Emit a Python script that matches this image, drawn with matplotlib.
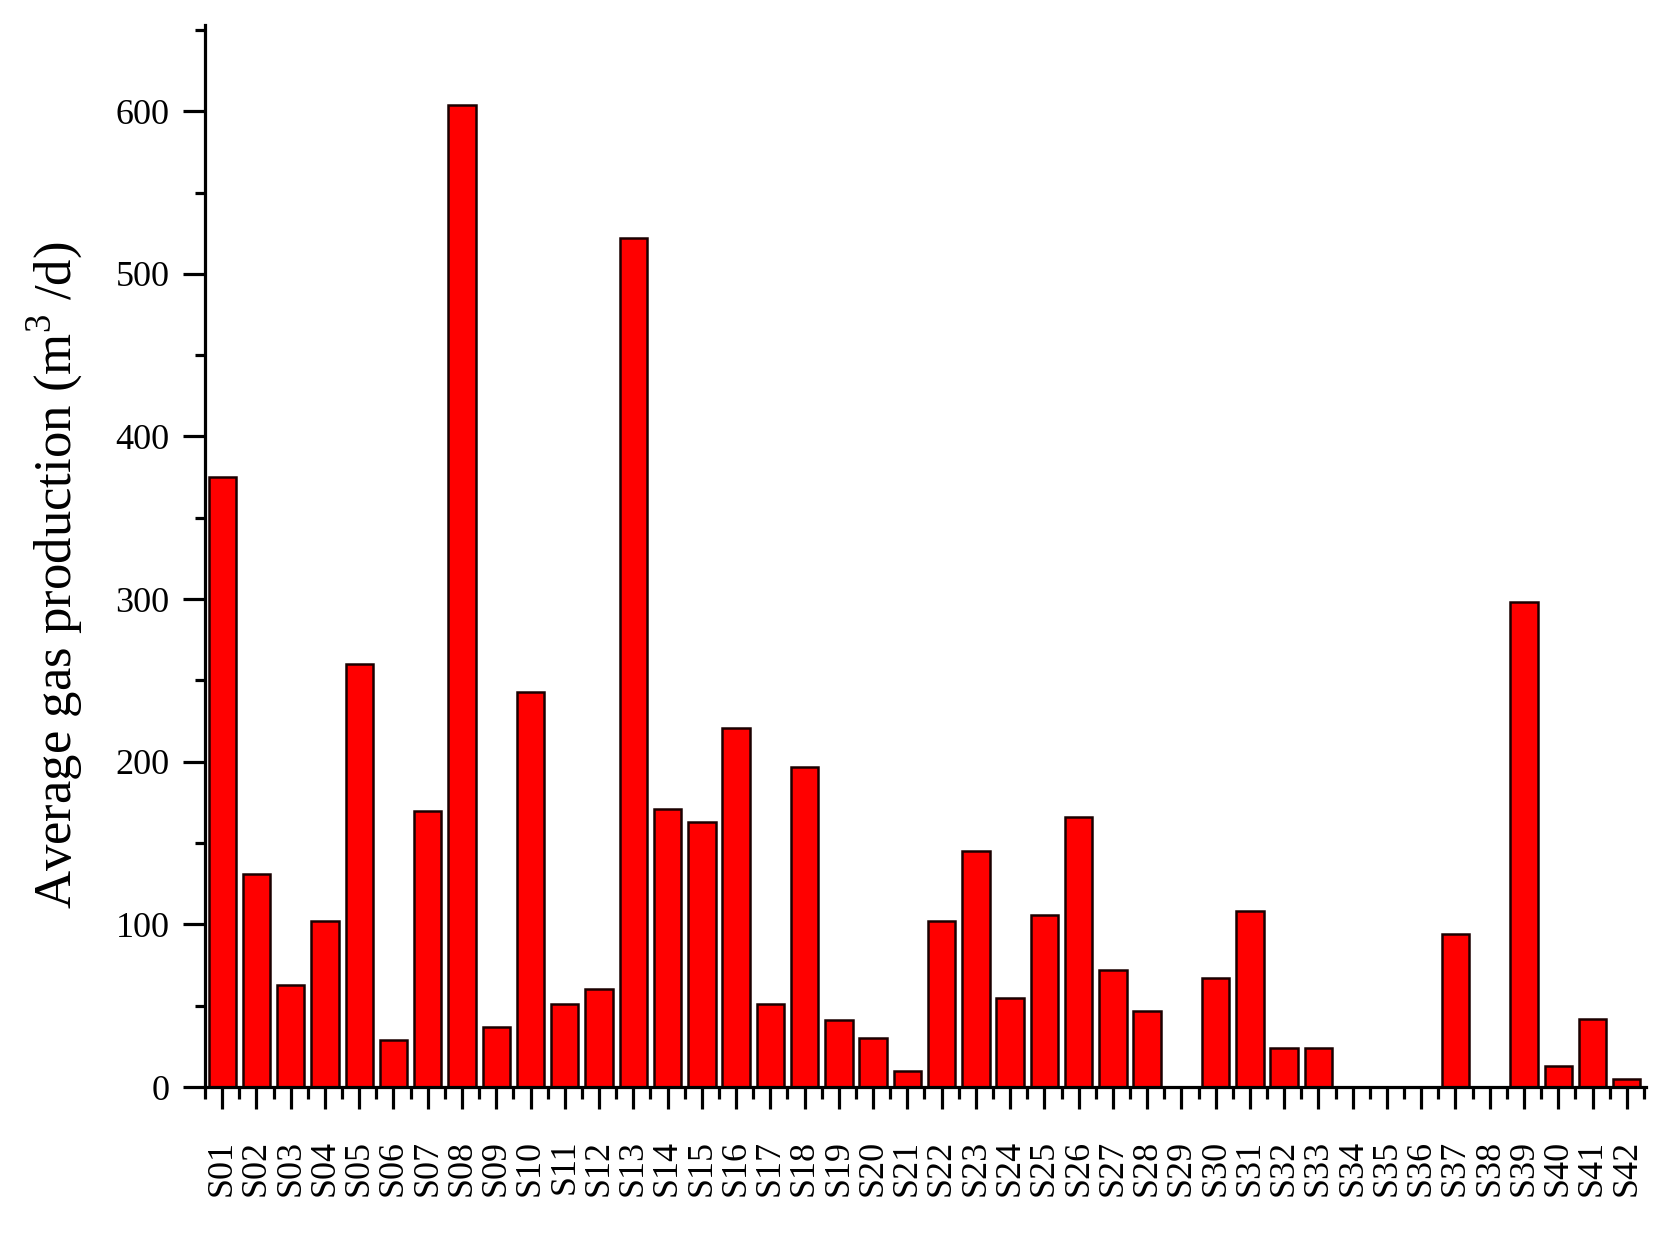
import matplotlib
matplotlib.use("Agg")
import matplotlib.pyplot as plt
import numpy as np

# sample sites and average gas production (m3/d)
sites = ["S%02d" % i for i in range(1, 43)]
gas = [375, 131, 63, 102, 260, 29, 170, 604, 37, 243,
       51, 60, 522, 171, 163, 221, 51, 197, 41, 30,
       10, 102, 145, 55, 106, 166, 72, 47, 0, 67,
       108, 24, 24, 0, 0, 0, 94, 0, 298, 13,
       42, 5]

plt.rcParams['font.family'] = ['Liberation Serif', 'DejaVu Serif']
plt.rcParams['mathtext.fontset'] = 'custom'
plt.rcParams['mathtext.rm'] = 'Liberation Serif'

fig = plt.figure(figsize=(16.7, 12.45), dpi=100)
ax = fig.add_axes([0.1228, 0.1269, 0.8628, 0.853])

x = np.arange(len(sites))
ax.bar(x, gas, width=0.8, color='#ff0000', edgecolor='#1a0000', linewidth=1.8, zorder=2)

ax.set_xlim(-0.47, 41.56)
ax.set_ylim(0, 653)

# spines
for s in ['top', 'right']:
    ax.spines[s].set_visible(False)
for s in ['left', 'bottom']:
    ax.spines[s].set_linewidth(2.3)

ax.set_yticks(np.arange(0, 601, 100))
ax.set_yticks(np.arange(50, 651, 100), minor=True)
ax.set_xticks(x)
ax.set_xticklabels(sites, rotation=90)
ax.set_xticks(np.arange(-0.5, 42, 1), minor=True)

ax.tick_params(axis='y', which='major', direction='out', length=15.5, width=2.3,
               labelsize=26, pad=10)
ax.tick_params(axis='y', which='minor', direction='out', length=7.5, width=2.3)
ax.tick_params(axis='x', which='major', direction='out', length=16, width=2.3,
               labelsize=26, pad=22)
ax.tick_params(axis='x', which='minor', direction='out', length=8.5, width=2.3)

ax.set_ylabel(r"Average gas production (m$^{\mathrm{3}}$ /d)", fontsize=38)
ax.yaxis.set_label_coords(-0.083, 0.482)

fig.savefig("out.png", dpi=100)
